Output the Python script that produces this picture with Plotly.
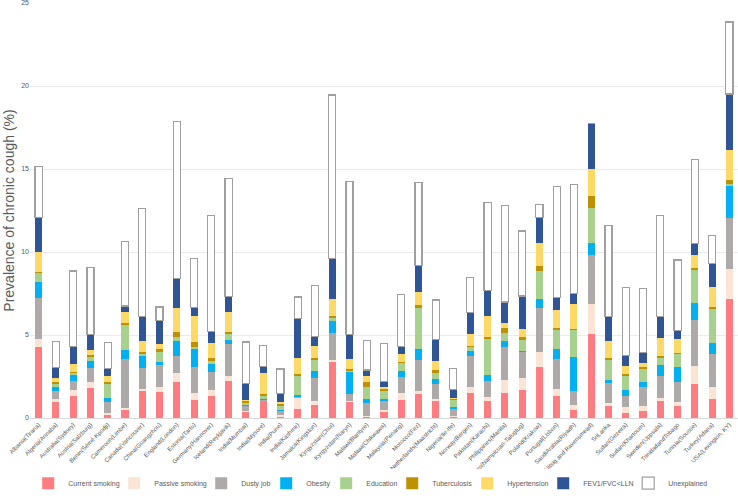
import plotly.graph_objects as go

sites = ["Albania(Tirana)", "Algeria(Annaba)", "Australia(Sydney)", "Austria(Salzburg)",
         "Benin(Sémé-Kpodji)", "Cameroon(Limbe)", "Canada(Vancouver)", "China(Guangzhou)",
         "England(London)", "Estonia(Tartu)", "Germany(Hannover)", "Iceland(Reykjavik)",
         "India(Mumbai)", "India(Mysore)", "India(Pune)", "India(Kashmir)", "Jamaica(Kingston)",
         "Kyrgyzstan(Chui)", "Kyrgyzstan(Naryn)", "Malawi(Blantyre)", "Malawi(Chikwawa)",
         "Malaysia(Penang)", "Morocco(Fez)", "Netherlands(Maastricht)", "Nigeria(Ile-Ife)",
         "Norway(Bergen)", "Pakistan(Karachi)", "Philippines(Manila)",
         "Philippines(Nampicuan-Talugtug)", "Poland(Krakow)", "Portugal(Lisbon)",
         "SaudiArabia(Riyadh)", "SouthAfrica(Uitsig and Ravensmead)", "SriLanka",
         "Sudan(Gezeira)", "Sudan(Khartoum)", "Sweden(Uppsala)", "TrinidadandTobago",
         "Tunisia(Sousse)", "Turkey(Adana)", "USA(Lexington, KY)"]

current_smoking = [4.29, 0.94, 1.30, 1.78, 0.20, 0.54, 1.68, 1.54, 2.14, 1.10, 1.34, 2.24,
                   0.38, 1.04, 0.08, 0.54, 0.76, 3.35, 0.98, 0.08, 0.40, 1.08, 1.42, 1.04,
                   0.08, 1.50, 1.04, 1.50, 1.70, 3.09, 1.30, 0.50, 5.09, 0.74, 0.30, 0.40,
                   1.04, 0.70, 2.04, 1.14, 7.19]
passive_smoking = [0.46, 0.20, 0.40, 0.36, 0.08, 0.06, 0.04, 0.30, 0.60, 0.40, 0.36, 0.30,
                   0.02, 0.04, 0.12, 0.70, 0.28, 0.16, 0.06, 0.04, 0.06, 0.44, 0.20, 0.12,
                   0.06, 0.34, 0.24, 0.80, 0.70, 0.90, 0.44, 0.28, 1.80, 0.16, 0.34, 0.34,
                   0.14, 0.28, 1.09, 0.70, 1.81]
dusty_job = [2.50, 0.46, 0.54, 0.86, 0.68, 2.93, 1.28, 1.41, 1.00, 1.60, 1.10, 1.90,
             0.30, 0.02, 0.24, 0.04, 1.38, 1.64, 0.40, 0.76, 0.62, 0.98, 1.89, 0.90,
             0.46, 1.87, 0.96, 2.00, 1.59, 2.66, 1.81, 0.86, 2.91, 1.20, 0.70, 1.10,
             1.37, 1.16, 2.78, 2.01, 3.02]
obesity = [0.97, 0.28, 0.40, 0.41, 0.24, 0.56, 0.75, 0.10, 0.90, 1.04, 0.48, 0.26,
           0.14, 0.06, 0.04, 0.10, 0.43, 0.70, 1.35, 0.26, 0.06, 0.35, 0.64, 0.26,
           0.08, 0.34, 0.35, 0.34, 0.04, 0.54, 0.60, 2.01, 0.72, 0.20, 0.34, 0.30,
           0.64, 0.91, 1.04, 0.64, 1.99]
education = [0.54, 0.22, 0.10, 0.30, 0.88, 1.56, 0.16, 0.60, 0.26, 0.16, 0.16, 0.34,
             0.10, 0.20, 0.30, 1.21, 0.70, 0.20, 0.10, 0.74, 0.46, 0.50, 2.50, 0.37,
             0.44, 0.26, 2.20, 0.50, 0.68, 1.67, 1.20, 1.66, 2.15, 1.25, 0.91, 0.85,
             0.46, 0.84, 2.01, 2.06, 0.10]
tuberculosis = [0.05, 0.04, 0.05, 0.08, 0.10, 0.08, 0.08, 0.18, 0.28, 0.30, 0.16, 0.14,
                0.10, 0.06, 0.10, 0.06, 0.06, 0.08, 0.08, 0.26, 0.20, 0.04, 0.14, 0.20,
                0.06, 0.04, 0.06, 0.30, 0.18, 0.30, 0.10, 0.04, 0.70, 0.06, 0.06, 0.10,
                0.10, 0.04, 0.06, 0.14, 0.20]
hypertension = [1.19, 0.30, 0.45, 0.30, 0.37, 0.68, 0.66, 0.32, 1.42, 1.52, 0.94, 1.22,
                0.04, 1.29, 0.08, 0.96, 0.74, 1.06, 0.58, 0.39, 0.04, 0.46, 0.81, 0.52,
                0.02, 0.70, 1.32, 0.30, 0.46, 1.36, 1.04, 1.50, 1.64, 1.04, 0.46, 0.22,
                1.04, 0.82, 0.78, 1.23, 1.82]
fev1_fvc_lln = [2.06, 0.61, 1.08, 0.96, 0.44, 0.34, 1.46, 1.44, 1.80, 0.52, 0.66, 0.94,
                1.00, 0.40, 0.52, 2.40, 0.56, 2.43, 1.50, 0.36, 0.34, 0.44, 1.60, 1.34,
                0.50, 1.30, 1.49, 1.25, 2.00, 1.54, 0.76, 0.67, 2.73, 1.46, 0.64, 0.64,
                1.32, 0.50, 0.72, 1.38, 3.39]
unexplained = [3.11, 1.56, 4.53, 4.01, 1.56, 3.87, 6.52, 0.80, 9.46, 2.95, 7.01, 7.08,
               2.50, 1.26, 1.47, 1.28, 3.09, 9.84, 9.20, 1.80, 2.33, 3.16, 4.97, 2.36,
               1.30, 2.13, 5.33, 5.79, 3.91, 0.81, 6.72, 6.55, 0.00, 5.49, 4.11, 3.87,
               6.09, 4.27, 5.05, 1.70, 4.33]

series = [
    ("Current smoking", current_smoking, "#FF7C80", 41),
    ("Passive smoking", passive_smoking, "#FBE3D6", 42),
    ("Dusty job", dusty_job, "#AEAAAA", 20),
    ("Obesity", obesity, "#00B0F0", 15),
    ("Education", education, "#A9D18E", 21),
    ("Tuberculosis", tuberculosis, "#BF9000", 30),
    ("Hypertension", hypertension, "#FFD966", 31),
    ("FEV1/FVC<LLN", fev1_fvc_lln, "#2F5597", 40),
]

fig = go.Figure()
for name, vals, color, lw in series:
    fig.add_trace(go.Bar(x=sites, y=vals, name=name, legendwidth=lw,
                         marker=dict(color=color, line=dict(width=0))))
fig.add_trace(go.Bar(x=sites, y=unexplained, name="Unexplained", legendwidth=34,
                     marker=dict(color="white", line=dict(color="#A0A0A0", width=1.2))))

fig.update_layout(
    barmode="stack",
    bargap=0.59,
    width=738, height=504,
    margin=dict(l=30, r=0, t=3, b=86),
    plot_bgcolor="white", paper_bgcolor="white",
    font=dict(family="Liberation Sans, Arial, sans-serif", color="#595959"),
    showlegend=True,
    legend=dict(orientation="h", x=0.477, xanchor="center", y=-0.157, yanchor="middle",
                font=dict(size=7, color="#595959"), itemwidth=30,
                traceorder="normal"),
)
fig.update_xaxes(tickangle=-45, tickfont=dict(size=6, color="#595959"), automargin=False,
                 showline=True, linecolor="#D9D9D9", ticks="", showgrid=False)
fig.update_yaxes(range=[0, 25], dtick=5, tickfont=dict(size=7, color="#595959"),
                 automargin=False, ticklabeloverflow="allow",
                 showgrid=True, gridcolor="#EBEBEB", zeroline=False, showline=False,
                 title=dict(text="Prevalence of chronic cough (%)",
                            font=dict(size=14, color="#595959"), standoff=3))

fig.write_html("out.html",
               config={"displayModeBar": False},
               post_script="document.body.style.margin='0px';"
                           "document.body.style.overflow='hidden';")
